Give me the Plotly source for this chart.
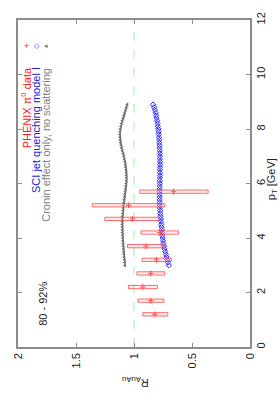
import plotly.graph_objects as go

# PHENIX pi0 data (80-92%)
phenix_pt = [1.2, 1.7, 2.2, 2.7, 3.2, 3.7, 4.2, 4.7, 5.2, 5.7]
phenix_r = [0.821, 0.855, 0.924, 0.855, 0.807, 0.897, 0.776, 1.014, 1.045, 0.659]
phenix_sys_lo = [0.708, 0.742, 0.798, 0.734, 0.678, 0.750, 0.616, 0.779, 0.734, 0.361]
phenix_sys_hi = [0.924, 0.966, 1.048, 0.975, 0.930, 1.056, 0.939, 1.252, 1.359, 0.950]

# model curves
model_pt = [3.0, 3.1, 3.2, 3.3, 3.4, 3.5, 3.6, 3.7, 3.8, 3.9,
            4.0, 4.1, 4.2, 4.3, 4.4, 4.5, 4.6, 4.7, 4.8, 4.9,
            5.0, 5.1, 5.2, 5.3, 5.4, 5.5, 5.6, 5.7, 5.8, 5.9,
            6.0, 6.1, 6.2, 6.3, 6.4, 6.5, 6.6, 6.7, 6.8, 6.9,
            7.0, 7.1, 7.2, 7.3, 7.4, 7.5, 7.6, 7.7, 7.8, 7.9,
            8.0, 8.1, 8.2, 8.3, 8.4, 8.5, 8.6, 8.7, 8.8, 8.9]
sci_r = [0.700, 0.707, 0.713, 0.719, 0.725, 0.731, 0.737, 0.742, 0.746, 0.750,
         0.753, 0.756, 0.758, 0.760, 0.762, 0.765, 0.767, 0.769, 0.771, 0.773,
         0.775, 0.777, 0.778, 0.779, 0.779, 0.779, 0.779, 0.779, 0.779, 0.778,
         0.778, 0.777, 0.777, 0.776, 0.776, 0.776, 0.775, 0.775, 0.775, 0.776,
         0.776, 0.777, 0.778, 0.779, 0.780, 0.781, 0.782, 0.784, 0.786, 0.788,
         0.791, 0.794, 0.797, 0.801, 0.805, 0.809, 0.814, 0.820, 0.827, 0.835]
cronin_r = [1.078, 1.080, 1.082, 1.084, 1.086, 1.088, 1.090, 1.092, 1.094, 1.095,
            1.097, 1.098, 1.099, 1.100, 1.100, 1.100, 1.100, 1.099, 1.098, 1.096,
            1.094, 1.092, 1.090, 1.087, 1.084, 1.081, 1.078, 1.075, 1.072, 1.069,
            1.067, 1.065, 1.065, 1.065, 1.066, 1.068, 1.071, 1.074, 1.078, 1.083,
            1.088, 1.094, 1.100, 1.106, 1.111, 1.115, 1.118, 1.120, 1.121, 1.120,
            1.117, 1.113, 1.107, 1.100, 1.093, 1.086, 1.079, 1.072, 1.065, 1.058]

r_ticks = [0, 0.5, 1, 1.5, 2]
r_ticklabels = ["0", "0.5", "1", "1.5", "2"]
pt_ticks = [0, 2, 4, 6, 8, 10, 12]
pt_ticklabels = ["0", "2", "4", "6", "8", "10", "12"]

BOX_HALF = 0.06
FONT = "Liberation Sans, Arial, sans-serif"

fig = go.Figure()

shapes = []
for pt, lo, hi in zip(phenix_pt, phenix_sys_lo, phenix_sys_hi):
    shapes.append(dict(type="rect", xref="x", yref="y", x0=lo, x1=hi,
                       y0=pt - BOX_HALF, y1=pt + BOX_HALF,
                       line=dict(color="rgba(255,60,60,0.75)", width=1),
                       fillcolor="rgba(255,200,200,0.3)", layer="above"))
shapes.append(dict(type="line", xref="x", yref="paper", x0=1, x1=1, y0=0, y1=1,
                   line=dict(color="#a8eca8", width=1, dash="dash"), layer="below"))

fig.add_trace(go.Scatter(x=cronin_r, y=model_pt, mode="markers",
                         marker=dict(symbol="triangle-left", size=4, color="#707070"),
                         showlegend=False))
fig.add_trace(go.Scatter(x=sci_r, y=model_pt, mode="markers",
                         marker=dict(symbol="diamond-open", size=4, color="#2a2aff",
                                     line=dict(width=1, color="#2a2aff")),
                         showlegend=False))
fig.add_trace(go.Scatter(x=phenix_r, y=phenix_pt, mode="markers",
                         marker=dict(symbol="cross-thin", size=4,
                                     line=dict(width=1, color="#ff2020")),
                         showlegend=False))

axis_common = dict(showgrid=False, zeroline=False, showline=True, linecolor="#8c8c8c",
                   linewidth=1.5, mirror="ticks", ticks="inside", ticklen=4,
                   tickcolor="#8c8c8c", tickwidth=1, ticklabeloverflow="allow",
                   tickfont=dict(family=FONT, size=11, color="#222222"), tickangle=-90)

fig.update_layout(
    width=280, height=400,
    margin=dict(l=12, r=30, t=17, b=53),
    paper_bgcolor="white", plot_bgcolor="white",
    shapes=shapes,
    xaxis=dict(range=[2, 0], tickvals=r_ticks, ticktext=r_ticklabels, **axis_common),
    yaxis=dict(range=[0, 12], side="right", tickvals=pt_ticks, ticktext=pt_ticklabels,
               **axis_common),
    annotations=[
        dict(text="R<sub>AuAu</sub>", xref="paper", yref="paper", x=0.504, y=-0.109,
             textangle=180, showarrow=False, xanchor="center", yanchor="middle",
             font=dict(family=FONT, size=11, color="#222222")),
        dict(text="p<sub>T</sub> [GeV]", xref="paper", yref="paper", x=1.093, y=0.512,
             textangle=-90, showarrow=False, xanchor="center", yanchor="middle",
             font=dict(family=FONT, size=11, color="#222222")),
        dict(text="80 - 92%", xref="paper", yref="paper", x=0.105, y=0.133,
             textangle=-90, showarrow=False, xanchor="center", yanchor="middle",
             font=dict(family=FONT, size=11, color="#222222")),
        dict(text="PHENIX π<sup>0</sup> data", xref="paper", yref="paper", x=0.036, y=0.861,
             textangle=-90, showarrow=False, xanchor="center", yanchor="top",
             font=dict(family=FONT, size=11, color="#ff2020")),
        dict(text="SCI jet quenching model I", xref="paper", yref="paper", x=0.080, y=0.861,
             textangle=-90, showarrow=False, xanchor="center", yanchor="top",
             font=dict(family=FONT, size=11, color="#2020dd")),
        dict(text="Cronin effect only, no scattering", xref="paper", yref="paper", x=0.122, y=0.861,
             textangle=-90, showarrow=False, xanchor="center", yanchor="top",
             font=dict(family=FONT, size=11, color="#808080")),
        dict(text="+", xref="paper", yref="paper", x=0.038, y=0.921,
             showarrow=False, xanchor="center", yanchor="middle",
             font=dict(family=FONT, size=9, color="#ff2020")),
        dict(text="◇", xref="paper", yref="paper", x=0.080, y=0.921,
             showarrow=False, xanchor="center", yanchor="middle",
             font=dict(family="DejaVu Sans", size=7, color="#2020ff")),
        dict(text="◂", xref="paper", yref="paper", x=0.122, y=0.921,
             showarrow=False, xanchor="center", yanchor="middle",
             font=dict(family="DejaVu Sans", size=7, color="#707070")),
    ],
)

fig.write_html("out.html", config={"displayModeBar": False},
               post_script="document.body.style.margin='0';")
